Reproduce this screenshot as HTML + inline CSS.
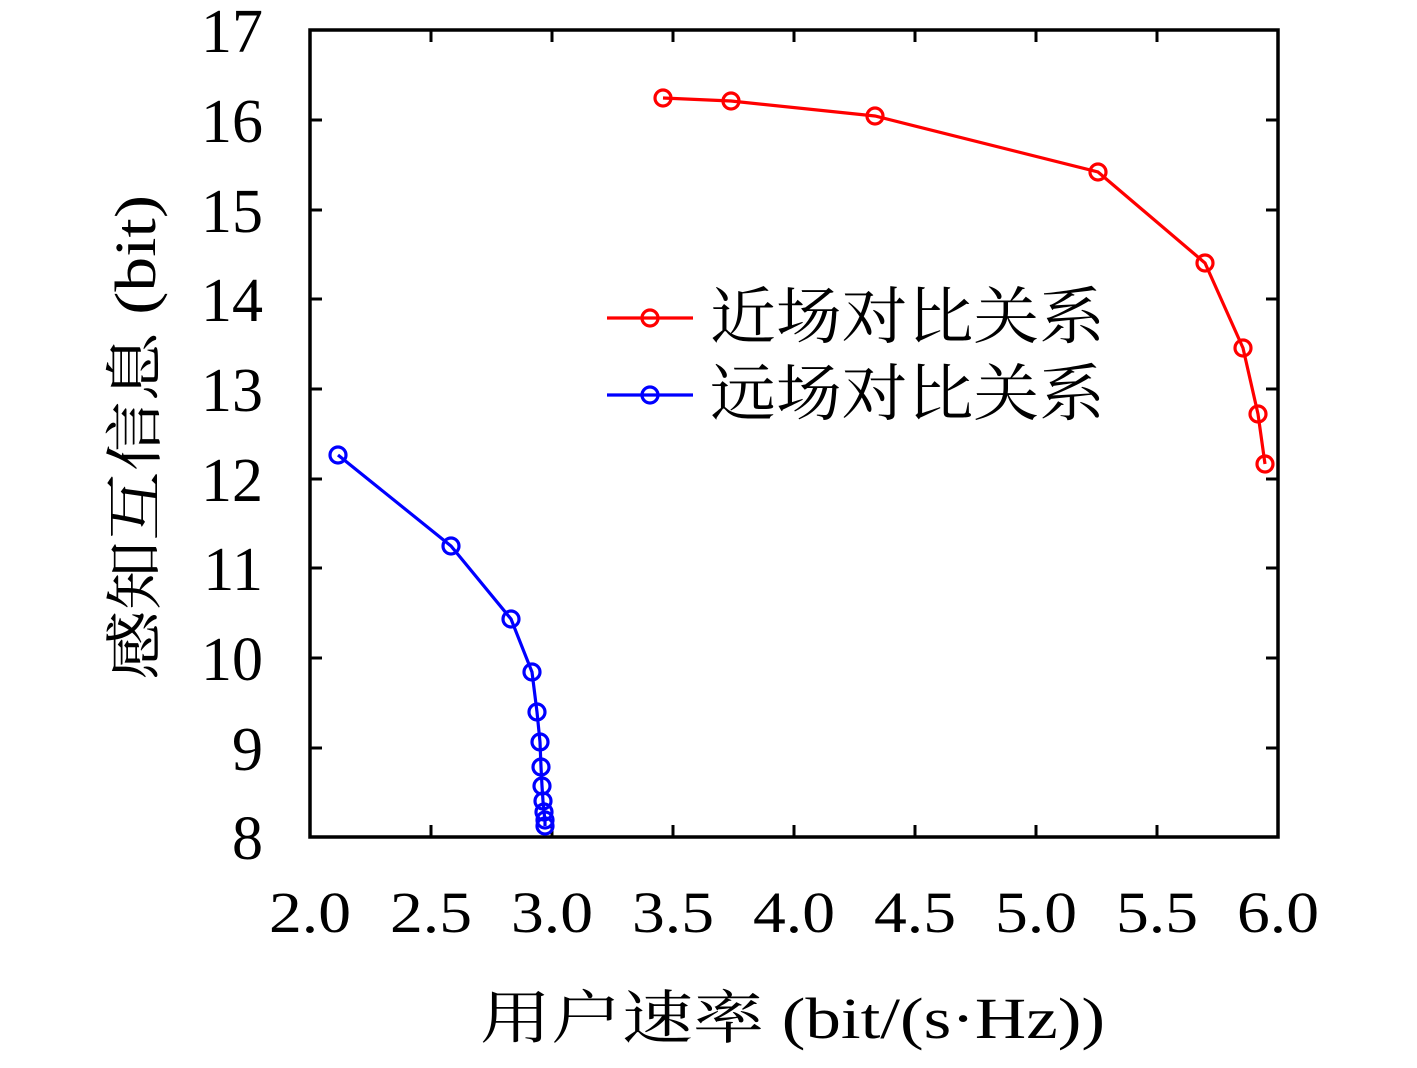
<!DOCTYPE html>
<html><head><meta charset="utf-8"><style>body{margin:0;background:#fff}</style></head><body>
<svg width="1417" height="1063" xmlns="http://www.w3.org/2000/svg" font-family="Liberation Serif, Noto Serif CJK SC, serif">
<rect x="310" y="30" width="968" height="807" fill="none" stroke="#000" stroke-width="3.5"/>
<g stroke="#000" stroke-width="3">
<path d="M310 120h12M310 210h12M310 299h12M310 389h12M310 479h12M310 568h12M310 658h12M310 748h12"/>
<path d="M1278 120h-12M1278 210h-12M1278 299h-12M1278 389h-12M1278 479h-12M1278 568h-12M1278 658h-12M1278 748h-12"/>
<path d="M431 837v-12M552 837v-12M673 837v-12M794 837v-12M915 837v-12M1036 837v-12M1157 837v-12"/>
<path d="M431 30v12M552 30v12M673 30v12M794 30v12M915 30v12M1036 30v12M1157 30v12"/>
</g>
<g font-size="62" text-anchor="end">
<text x="263" y="52">17</text><text x="263" y="142">16</text><text x="263" y="232">15</text><text x="263" y="321">14</text><text x="263" y="411">13</text><text x="263" y="501">12</text><text x="263" y="590">11</text><text x="263" y="680">10</text><text x="263" y="770">9</text><text x="263" y="859">8</text>
</g>
<g font-size="58" text-anchor="middle">
<text x="310" y="932" textLength="82" lengthAdjust="spacingAndGlyphs">2.0</text><text x="431" y="932" textLength="82" lengthAdjust="spacingAndGlyphs">2.5</text><text x="552" y="932" textLength="82" lengthAdjust="spacingAndGlyphs">3.0</text><text x="673" y="932" textLength="82" lengthAdjust="spacingAndGlyphs">3.5</text><text x="794" y="932" textLength="82" lengthAdjust="spacingAndGlyphs">4.0</text><text x="915" y="932" textLength="82" lengthAdjust="spacingAndGlyphs">4.5</text><text x="1036" y="932" textLength="82" lengthAdjust="spacingAndGlyphs">5.0</text><text x="1157" y="932" textLength="82" lengthAdjust="spacingAndGlyphs">5.5</text><text x="1278" y="932" textLength="82" lengthAdjust="spacingAndGlyphs">6.0</text>
</g>
<text x="480" y="1038" font-size="58" textLength="625" lengthAdjust="spacingAndGlyphs">用户速率 (bit/(s·Hz))</text>
<text transform="translate(155,680) rotate(-90)" font-size="58" textLength="485" lengthAdjust="spacingAndGlyphs">感知互信息 (bit)</text>
<g fill="none" stroke-width="3.2">
<polyline stroke="#f00" points="663,98 731,101 875,116 1098,172 1205,263 1243,348 1258,414 1265,464"/>
<g stroke="#f00"><circle cx="663" cy="98" r="8"/><circle cx="731" cy="101" r="8"/><circle cx="875" cy="116" r="8"/><circle cx="1098" cy="172" r="8"/><circle cx="1205" cy="263" r="8"/><circle cx="1243" cy="348" r="8"/><circle cx="1258" cy="414" r="8"/><circle cx="1265" cy="464" r="8"/></g>
<polyline stroke="#00f" points="338,455 451,546 511,619 532,672 537,712 540,742 541,767 542,786 543,801 544,812 545,820 545,826"/>
<g stroke="#00f"><circle cx="338" cy="455" r="8"/><circle cx="451" cy="546" r="8"/><circle cx="511" cy="619" r="8"/><circle cx="532" cy="672" r="8"/><circle cx="537" cy="712" r="8"/><circle cx="540" cy="742" r="8"/><circle cx="541" cy="767" r="8"/><circle cx="542" cy="786" r="8"/><circle cx="543" cy="801" r="8"/><circle cx="544" cy="812" r="8"/><circle cx="545" cy="820" r="8"/><circle cx="545" cy="826" r="8"/></g>
<path stroke="#f00" d="M607 318h86"/><circle stroke="#f00" cx="650" cy="318" r="8"/>
<path stroke="#00f" d="M607 395h86"/><circle stroke="#00f" cx="650" cy="395" r="8"/>
</g>
<text x="710" y="338" font-size="62" textLength="395" lengthAdjust="spacingAndGlyphs">近场对比关系</text>
<text x="710" y="415" font-size="62" textLength="395" lengthAdjust="spacingAndGlyphs">远场对比关系</text>
</svg>
</body></html>
